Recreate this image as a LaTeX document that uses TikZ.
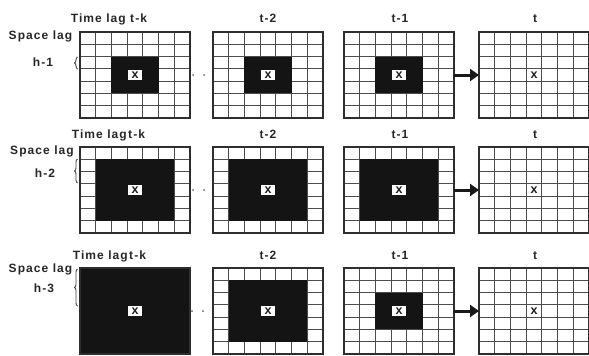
\documentclass[tikz,border=0pt]{standalone}
\usepackage{fontspec}
\setmainfont{Liberation Sans}[LetterSpace=9]
\usetikzlibrary{arrows.meta,decorations.pathreplacing}
\newcommand\cw{15.714}
\newcommand\ch{12.286}
\newcommand\cellgrid[4]{% name, x0, y0, half-size of black block (0 = none)
  \pgfmathsetmacro\gx{#2}%
  \pgfmathsetmacro\gy{#3}%
  \pgfmathsetmacro\gxe{#2+110}%
  \pgfmathsetmacro\gye{#3+86}%
  \foreach \i in {1,...,6}{%
    \pgfmathsetmacro\lx{\gx+\i*\cw}%
    \pgfmathsetmacro\ly{\gy+\i*\ch}%
    \draw[gridline] (\lx,\gy) -- (\lx,\gye);
    \draw[gridline] (\gx,\ly) -- (\gxe,\ly);
  }
  \ifnum#4>0
    \pgfmathsetmacro\bxa{\gx+(3-#4)*\cw}%
    \pgfmathsetmacro\bya{\gy+(3-#4)*\ch}%
    \pgfmathsetmacro\bxb{\gx+(4+#4)*\cw}%
    \pgfmathsetmacro\byb{\gy+(4+#4)*\ch}%
    \fill[blockfill] (\bxa,\bya) rectangle (\bxb,\byb);
    \pgfmathsetmacro\wxa{\gx+3*\cw+1.2}%
    \pgfmathsetmacro\wya{\gy+3*\ch+1.0}%
    \pgfmathsetmacro\wxb{\gx+4*\cw-1.2}%
    \pgfmathsetmacro\wyb{\gy+4*\ch-1.0}%
    \fill[white] (\wxa,\wya) rectangle (\wxb,\wyb);
  \fi
  \pgfmathsetmacro\cx{\gx+55}%
  \pgfmathsetmacro\cy{\gy+43}%
  \node[gridbox] (#1) at (\cx,\cy) {};
  \node[xlbl] (#1x) at (\cx,\cy) {x};
}
\tikzset{
  gridline/.style={draw=black!70, line width=1.15pt},
  gridbox/.style={draw=black!82, line width=1.2pt, minimum width=110pt, minimum height=86pt, inner sep=0pt, outer sep=0pt},
  blockfill/.style={fill=black!92},
  lbl/.style={inner sep=0pt, font=\bfseries\fontsize{12}{14}\selectfont, text=black!85},
  xlbl/.style={inner sep=0pt, font=\bfseries\fontsize{12.5}{14}\selectfont, text=black!88},
  bigarrow/.style={-{Triangle[length=9pt,width=12pt]}, line width=3pt, black!90},
  dotmark/.style={fill=black!60, circle, inner sep=0pt, minimum size=2pt},
  bracemark/.style={draw=black!75, line width=0.9pt, decorate, decoration={brace, amplitude=3pt}}
}
\begin{document}
\begin{tikzpicture}[x=1pt,y=-1pt]
\useasboundingbox (0,0) rectangle (589,356);
% row 1
\cellgrid{g11}{80}{32}{1}
\cellgrid{g12}{213}{32}{1}
\cellgrid{g13}{344}{32}{1}
\cellgrid{g14}{479}{32}{0}
% row 2
\cellgrid{g21}{80}{147}{2}
\cellgrid{g22}{213}{147}{2}
\cellgrid{g23}{344}{147}{2}
\cellgrid{g24}{479}{147}{0}
% row 3
\cellgrid{g31}{80}{268}{3}
\cellgrid{g32}{213}{268}{2}
\cellgrid{g33}{344}{268}{1}
\cellgrid{g34}{479}{268}{0}
% arrows
\draw[bigarrow] (g13.east) -- (g14.west);
\draw[bigarrow] (g23.east) -- (g24.west);
\draw[bigarrow] (g33.east) -- (g34.west);
% dots
\node[dotmark] (d11) at (193,75) {};
\node[dotmark] (d12) at (204,75) {};
\node[dotmark] (d21) at (193,190) {};
\node[dotmark] (d22) at (204,190) {};
\node[dotmark] (d31) at (192,311) {};
\node[dotmark] (d32) at (203,311) {};
% titles row 1
\node[lbl, anchor=base east] (tl1) at (126,22.5) {Time lag};
\node[lbl, anchor=base west] (tk1) at (130,22.5) {t-k};
\node[lbl, anchor=base] (t21) at (268,22.5) {t-2};
\node[lbl, anchor=base] (t31) at (400,22.5) {t-1};
\node[lbl, anchor=base] (t41) at (535,22.5) {t};
\node[lbl, anchor=base] (sl1) at (40.5,39.5) {Space lag};
\node[lbl, anchor=base] (h1) at (43,66.5) {h-1};
% titles row 2
\node[lbl, anchor=base east] (tl2) at (127,138.5) {Time lag};
\node[lbl, anchor=base west] (tk2) at (128,138.5) {t-k};
\node[lbl, anchor=base] (t22) at (268,138.5) {t-2};
\node[lbl, anchor=base] (t32) at (400,138.5) {t-1};
\node[lbl, anchor=base] (t42) at (535,138.5) {t};
\node[lbl, anchor=base] (sl2) at (42,154.5) {Space lag};
\node[lbl, anchor=base] (h2) at (45,177.5) {h-2};
% titles row 3
\node[lbl, anchor=base east] (tl3) at (128,259.5) {Time lag};
\node[lbl, anchor=base west] (tk3) at (129,259.5) {t-k};
\node[lbl, anchor=base] (t23) at (268,259.5) {t-2};
\node[lbl, anchor=base] (t33) at (400,259.5) {t-1};
\node[lbl, anchor=base] (t43) at (535,259.5) {t};
\node[lbl, anchor=base] (sl3) at (40.5,272.5) {Space lag};
\node[lbl, anchor=base] (h3) at (44,292.5) {h-3};
% braces
\coordinate (b1a) at (77.5,69);
\coordinate (b1b) at (77.5,57);
\coordinate (b2a) at (77.5,183);
\coordinate (b2b) at (77.5,159);
\coordinate (b3a) at (77.5,306);
\coordinate (b3b) at (77.5,269);
\draw[bracemark] (b1a) -- (b1b);
\draw[bracemark] (b2a) -- (b2b);
\draw[bracemark] (b3a) -- (b3b);
\end{tikzpicture}
\end{document}
